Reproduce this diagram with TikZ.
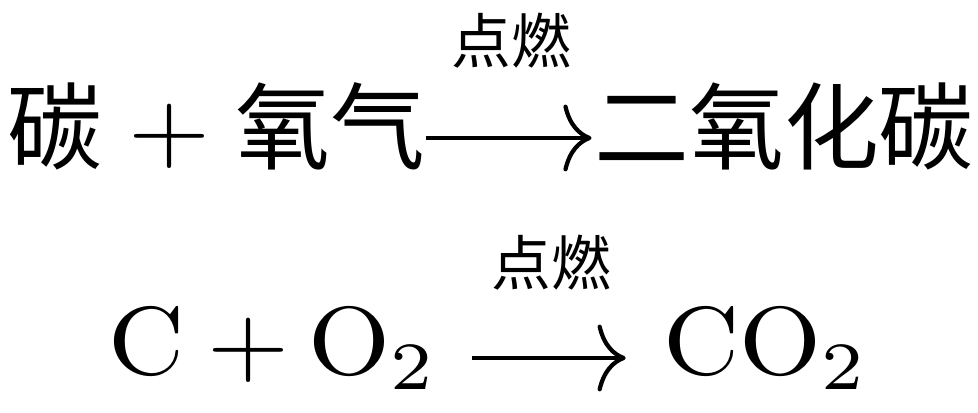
\documentclass[tikz,border=0pt]{standalone}
\usepackage{fontspec}
\newfontfamily\cjk{Noto Sans CJK SC}
\usetikzlibrary{arrows.meta,positioning}

\begin{document}
\begin{tikzpicture}[
    big/.style={font=\cjk\fontsize{27}{30}\selectfont, inner sep=0pt, anchor=base},
    formula/.style={font=\normalsize, inner sep=0pt, anchor=base, xscale=3, yscale=2.75},
    cond/.style={font=\cjk\fontsize{17}{19}\selectfont, inner sep=0pt, anchor=base},
    rxn/.style={-{Computer Modern Rightarrow[length=8pt,width=19pt]}, line width=1.2pt}]
		\useasboundingbox (0,0) rectangle (9.78,4.13);
		% word equation
		\node[big] (tan) at (0.55,2.50) {碳};
		\node[formula] (plusA) at (1.70,2.52) {$+$};
		\node[big] (yangqi) at (3.305,2.50) {氧气};
		\node[big] (eryang) at (7.84,2.50) {二氧化碳};
		\draw[rxn, shorten <=0pt, shorten >=0.2mm]
                ([yshift=0.25cm]yangqi.base east) -- ([yshift=0.25cm]eryang.base west);
		\node[cond] (dianA) at (5.11,3.49) {点燃};
		% formula equation
		\node[formula] (cc) at (1.47,0.38) {$\mathrm{C}$};
		\node[formula] (plusB) at (2.49,0.38) {$+$};
		\node[formula] (otwo) at (3.73,0.38) {$\mathrm{O_2}$};
		\node[formula] (cotwo) at (7.665,0.38) {$\mathrm{CO_2}$};
		\draw[rxn, shorten <=3.25mm, shorten >=3.6mm]
                ([yshift=0.17cm]otwo.base east) -- ([yshift=0.17cm]cotwo.base west);
		\node[cond] (dianB) at (5.51,1.27) {点燃};
	\end{tikzpicture}
\end{document}
